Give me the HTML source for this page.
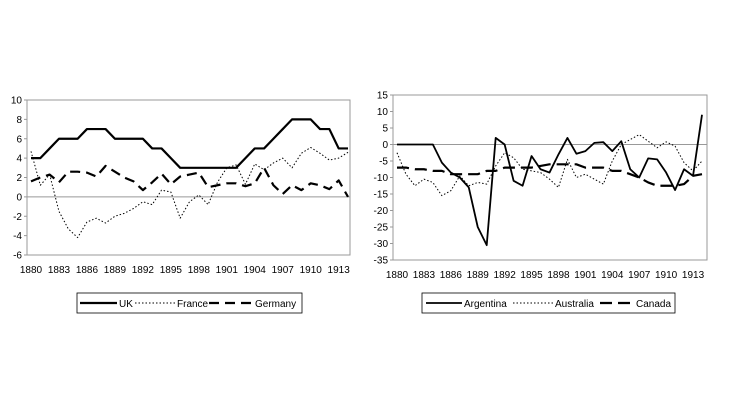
<!DOCTYPE html>
<html><head><meta charset="utf-8"><style>
body{margin:0;background:#fff;}
svg{display:block;font-family:"Liberation Sans",sans-serif;}
</style></head><body>
<svg id="s" width="730" height="410" xmlns="http://www.w3.org/2000/svg">
<rect width="730" height="410" fill="#fff"/>
</svg>
<script>
const s=document.getElementById('s');const NS='http://www.w3.org/2000/svg';
function el(t,a,txt){const e=document.createElementNS(NS,t);for(const k in a)e.setAttribute(k,a[k]);if(txt!==undefined)e.textContent=txt;s.appendChild(e);return e;}
function chart(c){
 const {L,R,T,B,min,max,step,x0,x1}=c;
 const Y=v=>T+(max-v)/(max-min)*(B-T);
 const X=i=>x0+i*(x1-x0)/34;
 el('rect',{x:L,y:T,width:R-L,height:B-T,fill:'none',stroke:'#999','stroke-width':1});
 el('line',{x1:L,x2:R,y1:Y(0),y2:Y(0),stroke:'#999','stroke-width':1});
 for(let v=min;v<=max;v+=step){
  el('line',{x1:L-3,x2:L,y1:Y(v),y2:Y(v),stroke:'#999'});
  el('text',{x:L-5,y:Y(v)+3.5,'font-size':10,'text-anchor':'end'},v);
 }
 for(let i=0;i<=33;i+=3){el('text',{x:X(i),y:B+18,'font-size':10,'text-anchor':'middle'},1880+i);}
 c.series.forEach(sr=>{
  el('polyline',{points:sr.d.map((v,i)=>X(i)+','+Y(v)).join(' '),fill:'none',stroke:'#000','stroke-width':sr.w,'stroke-dasharray':sr.da||'none','stroke-linejoin':'round'});
 });
 const g=c.leg;
 el('rect',{x:g.x,y:g.y,width:g.w,height:20,fill:'none',stroke:'#000','stroke-width':0.8});
 g.items.forEach(it=>{
  el('line',{x1:it.lx,x2:it.lx+it.lw,y1:g.y+10,y2:g.y+10,stroke:'#000','stroke-width':it.w,'stroke-dasharray':it.da||'none'});
  el('text',{x:it.lx+it.lw+2,y:g.y+14,'font-size':10},it.t);
 });
}
chart({L:27,R:350,T:100,B:255,min:-6,max:10,step:2,x0:31,x1:348,
 series:[
 {w:2.2,d:[4,4,5,6,6,6,7,7,7,6,6,6,6,5,5,4,3,3,3,3,3,3,3,4,5,5,6,7,8,8,8,7,7,5,5]},
 {w:1,da:'1.5,2',d:[4.7,1.2,2.3,-1.5,-3.3,-4.2,-2.6,-2.2,-2.7,-2,-1.7,-1.2,-0.5,-0.8,0.7,0.5,-2.2,-0.5,0.2,-0.8,1.5,3,3.3,1.3,3.4,2.8,3.5,4,3,4.5,5.1,4.5,3.8,4,4.6]},
 {w:2.2,da:'10,6',d:[1.6,2,2.3,1.5,2.6,2.6,2.5,2.1,3.2,2.6,2,1.6,0.7,1.5,2.4,1.3,2.1,2.3,2.5,1,1.2,1.4,1.4,1.1,1.4,3,1.2,0.3,1.2,0.7,1.4,1.2,0.8,1.7,0]}],
 leg:{x:77,y:293,w:225,items:[{lx:80,lw:37,w:2.2,t:'UK'},{lx:135,lw:40,w:1,da:'1.5,2',t:'France'},{lx:209,lw:44,w:2.2,da:'10,6',t:'Germany'}]}
});
chart({L:393,R:707,T:95,B:260,min:-35,max:15,step:5,x0:397,x1:702,
 series:[
 {w:1.8,d:[0,0,0,0,0,-5.5,-8.5,-10,-13,-25,-30.5,2,0,-11,-12.5,-3.5,-7.5,-8.5,-3,2,-2.8,-2,0.5,0.7,-2,1,-7.5,-10,-4.2,-4.5,-8.5,-13.8,-7.5,-9.5,9]},
 {w:1,da:'1.5,2',d:[-2.5,-9,-12.5,-10.5,-11.5,-15.5,-14,-9.5,-12.5,-11.5,-12,-6.5,-2.5,-4,-7.5,-8,-8.5,-10.5,-13,-4.5,-10,-9,-10.5,-12,-5,0,1.5,3,1,-1,0.8,-0.5,-5.5,-8,-5]},
 {w:2.2,da:'12,6',d:[-7,-7,-7.5,-7.5,-8,-8,-9,-9,-9,-9,-8,-8,-7,-7,-7,-7,-6.5,-6,-6,-6,-6,-7,-7,-7,-8,-8,-9,-10,-11.5,-12.5,-12.5,-12.5,-12,-9.5,-9]}],
 leg:{x:422,y:293,w:253,items:[{lx:426,lw:36,w:1.8,t:'Argentina'},{lx:513,lw:40,w:1,da:'1.5,2',t:'Australia'},{lx:600,lw:34,w:2.2,da:'12,6',t:'Canada'}]}
});
</script>
</body></html>
